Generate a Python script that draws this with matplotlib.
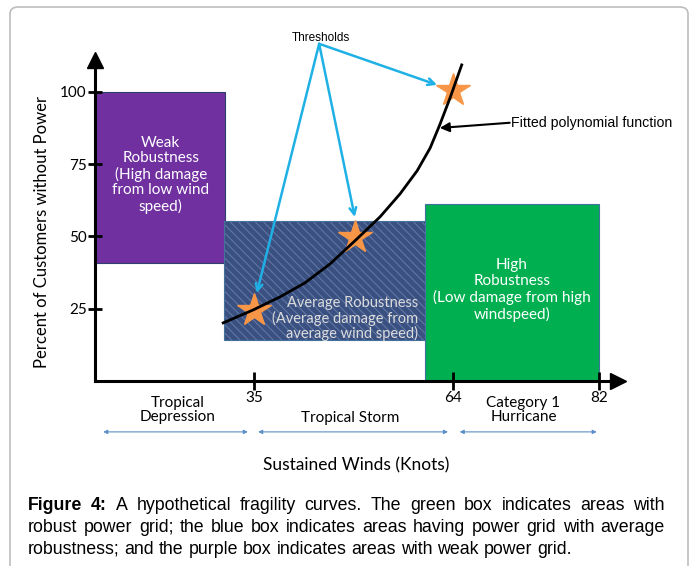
import matplotlib

matplotlib.use("Agg")
import matplotlib.pyplot as plt
from matplotlib.patches import FancyBboxPatch, Rectangle

plt.rcParams["hatch.linewidth"] = 0.7

# schematic x scale: tick positions on the drawn axis and the labels they carry
x_tick_pos = [35, 64, 85.4]
x_tick_labels = ["35", "64", "82"]
y_ticks = [25, 50, 75, 100]

# fitted curve
curve_x = [30.5, 34.9, 38.8, 42.4, 46.1, 50.0, 53.4, 56.3, 58.8, 60.7, 62.1, 63.6, 65.3]
curve_y = [20.1, 24.6, 29.1, 33.9, 40.5, 49.1, 56.8, 64.7, 72.7, 80.6, 88.6, 97.9, 109.3]

# threshold stars and where the arrows touch them
star_x = [35.0, 49.7, 64.0]
star_y = [24.6, 49.8, 100.7]
arrow_end_x = [35.4, 49.7, 61.7]
arrow_end_y = [30.4, 56.7, 102.4]
threshold_src = (44.5, 116.6)

# robustness boxes: (x0, x1, y0, y1)
weak_box = (11.8, 30.8, 40.8, 100)
avg_box = (30.6, 59.9, 14.2, 55.4)
high_box = (59.9, 85.4, 0, 61.2)

# wind categories under the axis
cat_names = ["Tropical\nDepression", "Tropical Storm", "Category 1\nHurricane"]
cat_text_x = [23.8, 49.0, 74.3]
cat_text_y = [-10.0, -12.8, -10.0]
cat_start = [13.0, 35.6, 65.0]
cat_end = [34.1, 63.3, 85.0]

caption_lines = [
    "Figure 4: A hypothetical fragility curves. The green box indicates areas with",
    "robust power grid; the blue box indicates areas having power grid with average",
    "robustness; and the purple box indicates areas with weak power grid.",
]

FONT = "Lato"
CAP_SIZE = 12.8
fig = plt.figure(figsize=(6.95, 5.66), dpi=100)

# rounded frame around the whole figure
fig.patches.append(
    FancyBboxPatch(
        (10 / 695, -0.05), 678 / 695, 1.05 - 7 / 566,
        boxstyle="round,pad=0,rounding_size=0.012",
        transform=fig.transFigure, facecolor="none", edgecolor="#bdbdbd", linewidth=1.2,
    )
)

ax = fig.add_axes([95 / 695, 1 - 381 / 566, 523 / 695, 321 / 566])
ax.set_xlim(11.8, 88.1)
ax.set_ylim(0, 111)
for side in ("top", "right"):
    ax.spines[side].set_visible(False)
for side in ("left", "bottom"):
    ax.spines[side].set_linewidth(2.2)
ax.set_xticks(x_tick_pos, x_tick_labels)
ax.set_yticks(y_ticks, [str(v) for v in y_ticks])
ax.tick_params(axis="x", direction="inout", length=13, width=2, pad=1, labelsize=11)
ax.tick_params(axis="y", direction="inout", length=10, width=2, pad=1, labelsize=11)
for lab in ax.get_xticklabels() + ax.get_yticklabels():
    lab.set_fontfamily(FONT)
ax.plot(0, 1, marker="^", ms=12, color="black", transform=ax.transAxes, clip_on=False)
ax.plot(1, 0, marker=">", ms=12, color="black", transform=ax.transAxes, clip_on=False)


def box(b, **kw):
    x0, x1, y0, y1 = b
    return Rectangle((x0, y0), x1 - x0, y1 - y0, **kw)


ax.add_patch(box(weak_box, facecolor="#7030a0", edgecolor="#2f3f6e", linewidth=0.8, zorder=1))
ax.add_patch(box(avg_box, facecolor="#3a5081", edgecolor="#647ca8", hatch="\\\\\\\\", linewidth=0, zorder=1))
ax.add_patch(box(avg_box, facecolor="none", edgecolor="#41719c", linewidth=0.8, zorder=1))
ax.add_patch(box(high_box, facecolor="#00b050", edgecolor="#41719c", linewidth=0.8, zorder=1))

ax.text(21.4, 71.3, "Weak\nRobustness\n(High damage\nfrom low wind\nspeed)", color="white",
        ha="center", va="center", fontsize=11, family=FONT, linespacing=1.12)
ax.text(72.6, 31.5, "High\nRobustness\n(Low damage from high\nwindspeed)", color="white",
        ha="center", va="center", fontsize=11, family=FONT, linespacing=1.15)
ax.text(58.9, 21.6, "Average Robustness\n(Average damage from\naverage wind speed)", color="#dcdcdc",
        ha="right", va="center", multialignment="right", fontsize=10.5, family=FONT,
        linespacing=1.05, zorder=2)

ax.plot(curve_x, curve_y, color="black", linewidth=2, zorder=3, clip_on=False)
ax.plot(star_x, star_y, linestyle="none", marker="*", ms=25, color="#f79646", zorder=2, clip_on=False)

for ex, ey in zip(arrow_end_x, arrow_end_y):
    ax.annotate("", xy=(ex, ey), xytext=threshold_src, annotation_clip=False,
                arrowprops={"arrowstyle": "->", "color": "#1fb0e6", "linewidth": 1.8,
                            "shrinkA": 0, "shrinkB": 0, "mutation_scale": 12})
ax.text(44.8, 118.7, "Thresholds", ha="center", va="center", fontsize=8.5, family="Liberation Sans",
        clip_on=False)

ax.annotate("", xy=(62.1, 87.5), xytext=(72.3, 89.3), annotation_clip=False,
            arrowprops={"arrowstyle": "-|>", "color": "black", "linewidth": 1.5,
                        "shrinkA": 0, "shrinkB": 0, "mutation_scale": 14})
fp = ax.text(72.5, 89.3, "Fitted polynomial function", ha="left", va="center", fontsize=10.2,
             family="Liberation Sans")
fp.set_clip_path(Rectangle((0, 0), 672 / 695, 1, transform=fig.transFigure))
fp.set_clip_on(True)

for name, tx, ty, s, e in zip(cat_names, cat_text_x, cat_text_y, cat_start, cat_end):
    ax.text(tx, ty, name, ha="center", va="center", fontsize=11, family=FONT, linespacing=0.95,
            clip_on=False)
    ax.annotate("", xy=(e, -17.6), xytext=(s, -17.6), annotation_clip=False,
                arrowprops={"arrowstyle": "<|-|>", "color": "#5b8fc7", "linewidth": 0.8,
                            "shrinkA": 0, "shrinkB": 0, "mutation_scale": 6})

fig.text(42 / 695, 1 - 232 / 566, "Percent of Customers without Power", rotation=90,
         ha="center", va="center", fontsize=12, family=FONT)
fig.text(356 / 695, 1 - 465 / 566, "Sustained Winds (Knots)", ha="center", va="center",
         fontsize=12.5, family=FONT)

# caption, justified like the source
renderer = fig.canvas.get_renderer()
cap_left, cap_right = 28 / 695, 665 / 695
cap_y = [1 - 505 / 566, 1 - 527 / 566, 1 - 549 / 566]
for i, (line, y) in enumerate(zip(caption_lines, cap_y)):
    words = line.split(" ")
    texts = []
    for j, w in enumerate(words):
        bold = i == 0 and j < 2
        texts.append(fig.text(0, y, w, ha="left", va="center", fontsize=CAP_SIZE,
                              family="Liberation Sans", fontweight="bold" if bold else "normal"))
    widths = [t.get_window_extent(renderer).width / fig.bbox.width for t in texts]
    if i < len(caption_lines) - 1:
        gap = (cap_right - cap_left - sum(widths)) / (len(words) - 1)
    else:
        space = fig.text(0, 0, "a b", fontsize=CAP_SIZE, family="Liberation Sans")
        ab = fig.text(0, 0, "ab", fontsize=CAP_SIZE, family="Liberation Sans")
        gap = (space.get_window_extent(renderer).width - ab.get_window_extent(renderer).width) / fig.bbox.width
        space.remove()
        ab.remove()
    x = cap_left
    for t, w in zip(texts, widths):
        t.set_x(x)
        x += w + gap

fig.savefig("out.png", dpi=100)
